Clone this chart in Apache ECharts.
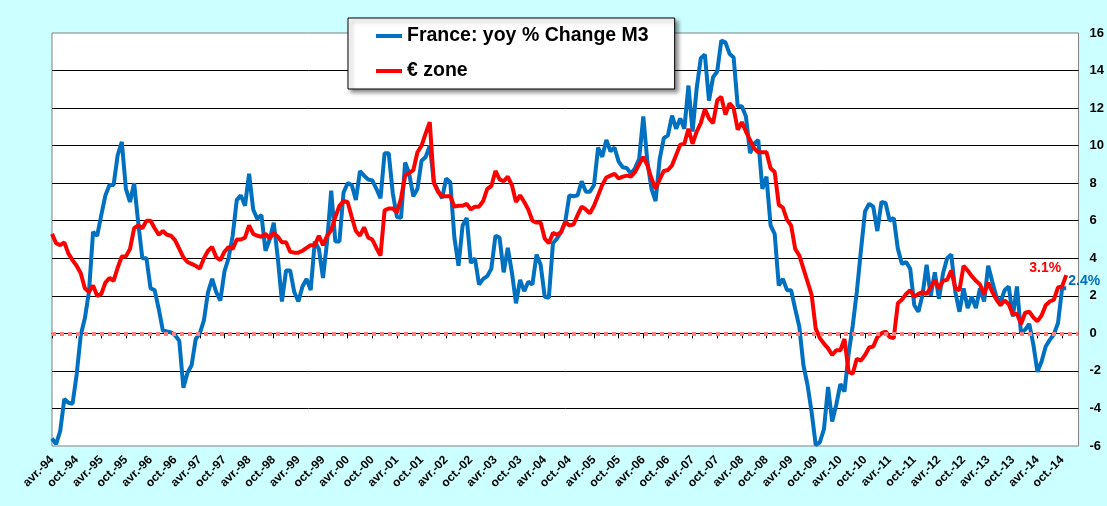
<!DOCTYPE html>
<html>
<head>
<meta charset="utf-8">
<title>France M3 vs € zone</title>
<script src="https://cdn.jsdelivr.net/npm/echarts@6/dist/echarts.min.js"></script>
<style>
  html, body { margin: 0; padding: 0; background: #ccffff; }
  #chart { width: 1107px; height: 506px; }
</style>
</head>
<body>
<div id="chart"></div>
<script>
// mois en français, série mensuelle qui commence en avril 1994
var monthNames = ['janv.', 'févr.', 'mars', 'avr.', 'mai', 'juin', 'juil.', 'août', 'sept.', 'oct.', 'nov.', 'déc.'];
var firstMonth = 3;   // avr.
var firstYear = 1994;
var axisMonths = 251; // avr.-94 -> juin-15 (fin de l'axe)

// France: yoy % change M3
var france = [
  -5.6, -5.9, -5.2, -3.5, -3.7, -3.75, -2.2, -0.1, 0.8, 2.2,
  5.4, 5.2, 6.3, 7.35, 7.9, 7.9, 9.5, 10.2, 7.7, 7.0,
  8.0, 5.9, 4.0, 4.0, 2.4, 2.3, 1.3, 0.15, 0.1, 0.05,
  -0.1, -0.4, -2.9, -2.1, -1.7, -0.3, 0.0, 0.7, 2.2, 2.9,
  2.2, 1.75, 3.3, 4.0, 5.2, 7.1, 7.35, 6.8, 8.5, 6.6,
  6.1, 6.3, 4.4, 5.0, 5.9, 4.0, 1.7, 3.35, 3.35, 2.2,
  1.7, 2.5, 2.9, 2.3, 4.9, 4.5, 2.95, 4.9, 7.6, 4.9,
  4.9, 7.5, 8.0, 7.9, 7.1, 8.65, 8.4, 8.2, 8.15, 7.7,
  7.2, 9.6, 9.6, 7.45, 6.2, 6.15, 9.1, 8.5, 7.3, 7.7,
  9.2, 9.4, 10.0, 8.05, 7.6, 7.2, 8.25, 8.05, 5.1, 3.6,
  5.75, 6.15, 3.75, 4.0, 2.6, 2.9, 3.05, 3.45, 5.2, 5.1,
  3.25, 4.55, 3.25, 1.6, 2.85, 2.25, 2.75, 2.6, 4.2, 3.65,
  1.95, 1.9, 4.8, 5.05, 5.4, 5.95, 7.35, 7.3, 7.35, 8.1,
  7.55, 7.55, 7.9, 9.9, 9.4, 10.3, 9.7, 9.9, 9.15, 8.85,
  8.8, 8.5, 8.8, 9.3, 11.55, 9.15, 7.7, 7.05, 9.3, 10.4,
  10.55, 11.6, 10.9, 11.45, 10.9, 13.2, 10.75, 13.05, 14.65, 14.85,
  12.4, 13.65, 13.95, 15.6, 15.5, 14.9, 14.7, 12.1, 12.1, 11.55,
  9.6, 10.1, 10.3, 7.7, 8.35, 5.75, 5.3, 2.55, 2.9, 2.3,
  2.3, 1.3, 0.35, -1.7, -2.75, -4.2, -5.95, -5.8, -5.1, -2.85,
  -4.7, -3.8, -2.7, -3.1, -1.1, 0.4, 2.2, 4.4, 6.5, 6.9,
  6.75, 5.45, 7.0, 6.95, 6.0, 6.15, 4.5, 3.7, 3.8, 3.45,
  1.5, 1.15, 2.05, 3.65, 2.0, 3.25, 1.85, 3.2, 4.0, 4.2,
  2.2, 1.15, 2.4, 1.35, 1.95, 1.35, 2.4, 1.7, 3.6, 2.75,
  1.95, 1.65, 2.3, 2.5, 0.9, 2.5, 0.0, 0.2, 0.5, -0.6,
  -2.05, -1.5, -0.7, -0.35, -0.05, 0.55, 2.4, 2.4
];

// € zone
var euroZone = [
  5.3, 4.8, 4.7, 4.85, 4.25, 3.9, 3.6, 3.2, 2.4, 2.2,
  2.55, 2.0, 2.1, 2.7, 2.95, 2.8, 3.5, 4.1, 4.1, 4.5,
  5.6, 5.75, 5.6, 6.0, 6.0, 5.6, 5.25, 5.45, 5.25, 5.2,
  4.95, 4.5, 4.05, 3.8, 3.7, 3.6, 3.45, 4.0, 4.4, 4.6,
  4.05, 3.9, 4.35, 4.6, 4.5, 5.0, 5.0, 5.1, 5.75, 5.3,
  5.2, 5.15, 5.3, 5.05, 5.35, 5.15, 4.85, 4.85, 4.35, 4.3,
  4.3, 4.4, 4.55, 4.7, 4.7, 5.2, 4.7, 5.2, 5.5, 6.2,
  6.8, 7.05, 7.0, 6.2, 5.45, 5.2, 5.65, 5.1, 5.0, 4.55,
  4.15, 6.55, 6.65, 6.65, 6.45, 7.2, 8.4, 8.55, 8.7, 9.65,
  10.0, 10.65, 11.25, 8.0, 7.55, 7.3, 7.3, 7.3, 6.75, 6.8,
  6.8, 6.9, 6.6, 6.75, 6.75, 7.05, 7.7, 7.85, 8.65, 8.2,
  8.1, 8.35, 7.9, 7.0, 7.35, 7.0, 6.6, 6.0, 5.9, 5.9,
  5.05, 4.8, 5.35, 5.25, 5.4, 5.95, 5.75, 5.8, 6.3, 6.75,
  6.6, 6.4, 6.8, 7.35, 7.9, 8.3, 8.4, 8.5, 8.25, 8.35,
  8.4, 8.35, 8.6, 9.0, 9.4, 8.95, 8.25, 7.7, 8.2, 8.65,
  8.7, 8.95, 9.5, 10.05, 10.1, 10.9, 10.1, 10.75, 11.2, 11.95,
  11.45, 11.2, 12.4, 12.6, 11.65, 12.25, 12.0, 10.85, 11.25, 10.75,
  10.3, 9.85, 9.65, 9.65, 9.65, 8.8, 8.6, 6.85, 6.7, 6.05,
  5.75, 4.5, 4.15, 3.45, 2.75, 2.05, 0.25, -0.25, -0.55, -0.8,
  -1.15, -0.9, -0.9, -0.3, -2.05, -2.15, -1.35, -1.45, -1.15, -0.75,
  -0.7, -0.2, 0.0, 0.1, -0.2, -0.25, 1.6, 1.8, 2.1, 2.3,
  1.95, 2.1, 2.2, 2.1, 2.45, 2.85, 2.4, 2.8, 2.85, 3.35,
  2.4, 2.3, 3.6, 3.35, 3.05, 2.8, 2.6, 2.1, 2.7, 2.2,
  1.8, 1.5, 1.75, 1.55, 1.0, 1.05, 0.5, 1.1, 1.15, 0.85,
  0.65, 0.95, 1.5, 1.7, 1.8, 2.45, 2.5, 3.1
];

var yTicks = { min: -6, max: 16, step: 2 };
var zeroLine = 0;

var categories = [];
for (var i = 0; i < axisMonths; i++) {
  var m = (firstMonth + i) % 12;
  var y = firstYear + Math.floor((firstMonth + i) / 12);
  categories.push(monthNames[m] + '-' + String(y).slice(2));
}

var font = 'Arial, "Liberation Sans", sans-serif';
var lastFr = france.length - 1;
var lastEz = euroZone.length - 1;
var dotStyle = { color: '#ff7f7f', width: 4, type: [4, 4], opacity: 1 };

var chart = echarts.init(document.getElementById('chart'));
chart.setOption({
  animation: false,
  backgroundColor: '#ccffff',
  grid: {
    left: 52, right: 28, top: 33, bottom: 60,
    show: true, backgroundColor: '#ffffff',
    borderColor: '#808080', borderWidth: 1
  },
  legend: {
    orient: 'vertical',
    left: 348, top: 18,
    padding: [8, 26, 8, 28],
    itemGap: 15,
    itemWidth: 26, itemHeight: 4,
    backgroundColor: '#ffffff',
    borderColor: '#000000', borderWidth: 1,
    shadowBlur: 4, shadowColor: 'rgba(0,0,0,0.45)',
    shadowOffsetX: 3, shadowOffsetY: 3,
    textStyle: { fontFamily: font, fontWeight: 'bold', fontSize: 19.5, color: '#000', lineHeight: 20 },
    data: [
      { name: 'France: yoy % Change M3', icon: 'rect' },
      { name: '€ zone', icon: 'rect' }
    ]
  },
  xAxis: {
    type: 'category',
    data: categories,
    boundaryGap: false,
    axisLine: { lineStyle: { color: '#000', width: 1 } },
    axisTick: { interval: 5, length: 5, lineStyle: { color: '#000' } },
    axisLabel: {
      interval: 5, rotate: 45, margin: 12,
      fontFamily: font, fontWeight: 'bold', fontSize: 12, color: '#000'
    },
    splitLine: { show: false }
  },
  yAxis: {
    type: 'value',
    position: 'right',
    min: yTicks.min, max: yTicks.max, interval: yTicks.step,
    axisLine: { show: false },
    axisTick: { show: false },
    axisLabel: { margin: 11, fontFamily: font, fontWeight: 'bold', fontSize: 13, color: '#000' },
    splitLine: { show: true, showMinLine: false, showMaxLine: false, lineStyle: { color: '#000', width: 1 } }
  },
  series: [
    {
      // ligne zéro en pointillés, sous les courbes
      type: 'line', data: [], z: 2, silent: true,
      markLine: {
        silent: true, symbol: ['none', 'none'], label: { show: false },
        lineStyle: dotStyle,
        data: [{ yAxis: zeroLine, lineStyle: dotStyle }]
      }
    },
    {
      name: 'France: yoy % Change M3',
      type: 'line', data: france, z: 3,
      showSymbol: false, symbol: 'none',
      color: '#0070c0',
      lineStyle: { color: '#0070c0', width: 4 },
      markPoint: {
        symbol: 'circle', symbolSize: 1, itemStyle: { color: 'transparent' },
        label: {
          show: true, position: 'inside', align: 'left', verticalAlign: 'middle',
          offset: [2, -7], color: '#0070c0', fontFamily: font, fontWeight: 'bold', fontSize: 14,
          formatter: function (p) { return p.value.toFixed(1) + '%'; }
        },
        data: [{ coord: [lastFr, france[lastFr]], value: france[lastFr] }]
      }
    },
    {
      name: '€ zone',
      type: 'line', data: euroZone, z: 4,
      showSymbol: false, symbol: 'none',
      color: '#ff0000',
      lineStyle: { color: '#ff0000', width: 4 },
      markPoint: {
        symbol: 'circle', symbolSize: 1, itemStyle: { color: 'transparent' },
        label: {
          show: true, position: 'inside', align: 'right', verticalAlign: 'middle',
          offset: [-5, -7], color: '#ff0000', fontFamily: font, fontWeight: 'bold', fontSize: 14,
          formatter: function (p) { return p.value.toFixed(1) + '%'; }
        },
        data: [{ coord: [lastEz, euroZone[lastEz]], value: euroZone[lastEz] }]
      }
    }
  ]
});
</script>
</body>
</html>
